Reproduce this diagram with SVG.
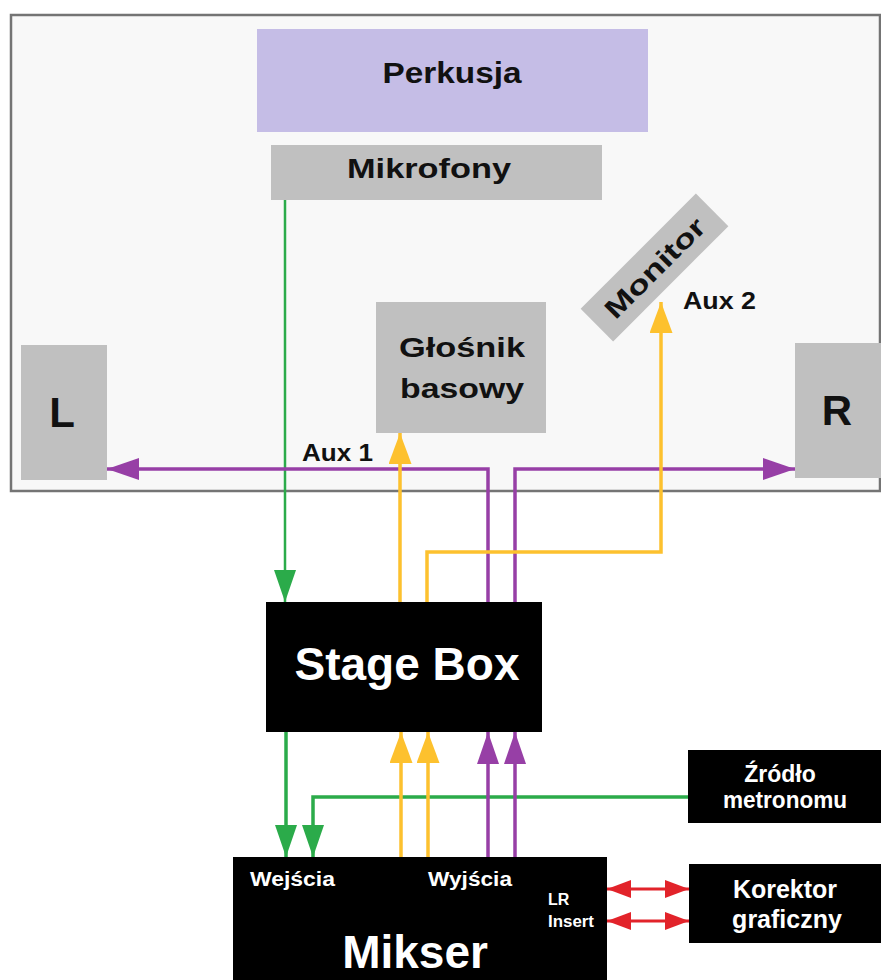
<svg xmlns="http://www.w3.org/2000/svg" width="881" height="980" viewBox="0 0 881 980">
<defs>
<style>
text{font-family:"Liberation Sans",Arial,sans-serif;font-weight:bold}
.dk{fill:#111}
.wt{fill:#fff}
.gray{fill:#c0c0c0}
.blk{fill:#000}
.g{stroke:#2bab4a;fill:none}
.y{stroke:#fdc12e;fill:none;stroke-width:3.5}
.p{stroke:#973fa6;fill:none;stroke-width:3.5}
.r{stroke:#e2232a;fill:none;stroke-width:3}
</style>
<marker id="ag" markerUnits="userSpaceOnUse" markerWidth="32" markerHeight="24" refX="32" refY="11" orient="auto"><path d="M0,0 L32,11 L0,22 z" fill="#2bab4a"/></marker>
<marker id="ay" markerUnits="userSpaceOnUse" markerWidth="32" markerHeight="24" refX="31" refY="11.5" orient="auto"><path d="M0,0 L31,11.5 L0,23 z" fill="#fdc12e"/></marker>
<marker id="ap" markerUnits="userSpaceOnUse" markerWidth="32" markerHeight="24" refX="32" refY="11" orient="auto"><path d="M0,0 L32,11 L0,22 z" fill="#973fa6"/></marker>
<marker id="ar" markerUnits="userSpaceOnUse" markerWidth="26" markerHeight="20" refX="24" refY="9" orient="auto-start-reverse"><path d="M0,0 L24,9 L0,18 z" fill="#e2232a"/></marker>
</defs>
<rect x="0" y="0" width="881" height="980" fill="#fff"/>
<g id="stage">
<rect x="11" y="15" width="869" height="476" fill="#f8f8f8" stroke="#747474" stroke-width="2.5"/>
</g>
<g id="perkusja">
<rect x="257" y="29" width="391" height="103" fill="#c5bde6"/>
<text x="452" y="83" font-size="30" text-anchor="middle" textLength="139" lengthAdjust="spacingAndGlyphs" class="dk">Perkusja</text>
</g>
<g id="mikrofony">
<rect x="271" y="145" width="331" height="55" class="gray"/>
<text x="429" y="178" font-size="27" text-anchor="middle" textLength="164" lengthAdjust="spacingAndGlyphs" class="dk">Mikrofony</text>
</g>
<g id="monitor" transform="translate(654.5,267.5) rotate(-45)">
<rect x="-81.5" y="-23" width="163" height="46" class="gray"/>
<text x="0" y="10" font-size="27" text-anchor="middle" textLength="130" lengthAdjust="spacingAndGlyphs" class="dk">Monitor</text>
</g>
<g id="glosnik">
<rect x="376" y="302" width="170" height="131" class="gray"/>
<text x="462" y="357" font-size="28" text-anchor="middle" textLength="126" lengthAdjust="spacingAndGlyphs" class="dk">Głośnik</text>
<text x="462" y="398" font-size="28" text-anchor="middle" textLength="124" lengthAdjust="spacingAndGlyphs" class="dk">basowy</text>
</g>
<g id="L">
<rect x="21" y="345" width="86" height="135" class="gray"/>
<text x="62" y="427" font-size="42" text-anchor="middle" class="dk">L</text>
</g>
<g id="R">
<rect x="795" y="343" width="86" height="135" class="gray"/>
<text x="837" y="425" font-size="42" text-anchor="middle" class="dk">R</text>
</g>
<g id="stagebox">
<rect x="266" y="602" width="276" height="130" class="blk"/>
<text x="407" y="680" font-size="46" text-anchor="middle" class="wt">Stage Box</text>
</g>
<g id="mikser">
<rect x="233" y="857" width="374" height="130" class="blk"/>
<text x="250" y="886" font-size="20" textLength="85" lengthAdjust="spacingAndGlyphs" class="wt">Wejścia</text>
<text x="428" y="886" font-size="20" textLength="84" lengthAdjust="spacingAndGlyphs" class="wt">Wyjścia</text>
<text x="548" y="905" font-size="16" class="wt">LR</text>
<text x="548" y="927" font-size="16" textLength="46" lengthAdjust="spacingAndGlyphs" class="wt">Insert</text>
<text x="415" y="968" font-size="46" text-anchor="middle" class="wt">Mikser</text>
</g>
<g id="zrodlo">
<rect x="688" y="750" width="193" height="73" class="blk"/>
<text x="780" y="782" font-size="23" text-anchor="middle" class="wt">Źródło</text>
<text x="785" y="808" font-size="23" text-anchor="middle" textLength="124" lengthAdjust="spacingAndGlyphs" class="wt">metronomu</text>
</g>
<g id="korektor">
<rect x="689" y="864" width="192" height="79" class="blk"/>
<text x="785" y="898" font-size="25" text-anchor="middle" class="wt">Korektor</text>
<text x="787" y="928" font-size="25" text-anchor="middle" class="wt">graficzny</text>
</g>
<g id="labels">
<text x="302" y="461" font-size="24" textLength="71" lengthAdjust="spacingAndGlyphs" class="dk">Aux 1</text>
<text x="683" y="309" font-size="24" textLength="73" lengthAdjust="spacingAndGlyphs" class="dk">Aux 2</text>
</g>
<g id="connectors">
<path class="g" stroke-width="2.5" d="M285,200 V602" marker-end="url(#ag)"/>
<path class="p" d="M488,602 V469 H107" marker-end="url(#ap)"/>
<path class="p" d="M515,602 V469 H795" marker-end="url(#ap)"/>
<path class="y" d="M400,602 V433" marker-end="url(#ay)"/>
<path class="y" d="M427,602 V552 H661 V302" marker-end="url(#ay)"/>
<path class="g" stroke-width="3.5" d="M286,732 V857" marker-end="url(#ag)"/>
<path class="g" stroke-width="3.5" d="M688,797 H313 V857" marker-end="url(#ag)"/>
<path class="y" d="M401,857 V732" marker-end="url(#ay)"/>
<path class="y" d="M428,857 V732" marker-end="url(#ay)"/>
<path class="p" d="M488,857 V732" marker-end="url(#ap)"/>
<path class="p" d="M515,857 V732" marker-end="url(#ap)"/>
<path class="r" d="M607,889 H689" marker-start="url(#ar)" marker-end="url(#ar)"/>
<path class="r" d="M607,921 H689" marker-start="url(#ar)" marker-end="url(#ar)"/>
</g>
</svg>
